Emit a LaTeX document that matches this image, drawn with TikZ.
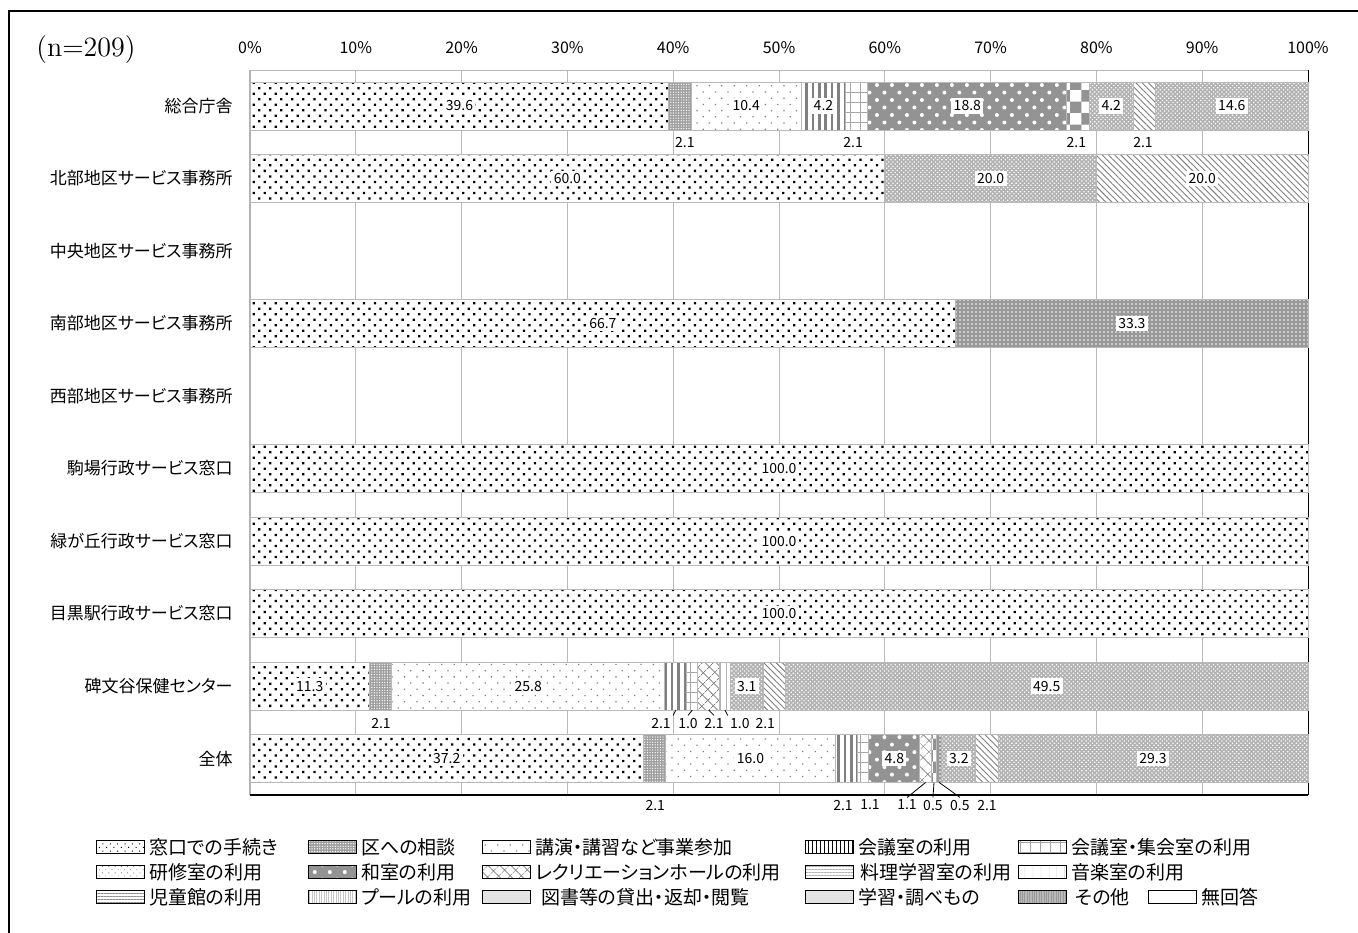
\documentclass[tikz,border=0pt]{standalone}
\usepackage{fontspec}
\usepackage{xcolor}
\usetikzlibrary{patterns,patterns.meta,positioning}
\newfontfamily\jp[RawFeature=+palt]{Noto Sans CJK JP}

\tikzset{
  seg/.style={draw=gray!55, line width=0.5pt, preaction={fill=white}},
  pdot/.style={pattern={Dots[radius=0.8pt,distance=3.9pt,angle=45]}, pattern color=black},
  pden/.style={preaction={fill=gray!75}, pattern={Dots[radius=0.35pt,distance=1.3pt]}, pattern color=white},
  plit/.style={pattern={Dots[radius=0.45pt,distance=4.4pt,angle=45]}, pattern color=gray},
  pvst/.style={pattern={Lines[angle=90,distance=3.2pt,line width=1.3pt]}, pattern color=gray},
  pgrd/.style={pattern={Hatch[angle=0,distance=5pt,line width=0.35pt]}, pattern color=gray!70},
  pwsq/.style={preaction={fill=gray!85}, pattern={Dots[radius=1pt,distance=5.3pt,angle=45]}, pattern color=white},
  pchk/.style={pattern=checkerboard, pattern color=gray!85},
  pfin/.style={preaction={fill=gray!60}, pattern={Dots[radius=0.45pt,distance=1.5pt,angle=45]}, pattern color=white},
  pdia/.style={pattern={Lines[angle=-45,distance=2.2pt,line width=0.45pt]}, pattern color=gray},
  pxx/.style={pattern={Hatch[angle=45,distance=4pt,line width=0.35pt]}, pattern color=gray},
  pgwd/.style={preaction={fill=gray!80}, pattern={Dots[radius=0.45pt,distance=2pt]}, pattern color=white},
  pvln/.style={pattern={Lines[angle=90,distance=3pt,line width=0.4pt]}, pattern color=gray!60},
  grid/.style={draw=gray!55, line width=0.5pt},
  vlab/.style={font=\jp\fontsize{7}{8}\selectfont, fill=white, inner sep=1.2pt},
  blab/.style={font=\jp\fontsize{7}{8}\selectfont, inner sep=1pt},
  lead/.style={draw=black, line width=0.4pt},
  rowlab/.style={anchor=east, inner sep=1pt, font=\jp\fontsize{8.5}{10}\selectfont},
  pct/.style={font=\jp\fontsize{8}{9}\selectfont},
  sw/.style={draw=black, line width=0.4pt, fill=white, minimum width=24pt, minimum height=6.5pt, inner sep=0pt, anchor=west},
  lgt/.style={font=\jp\fontsize{9.5}{11}\selectfont, inner sep=1pt},
}

\begin{document}
\begin{tikzpicture}[x=0.5pt,y=-0.5pt]
\useasboundingbox (0,0) rectangle (1358,932);
\draw[line width=1pt] (9,940) -- (9,11) -- (1366,11);
\node[font=\fontsize{14}{16}\selectfont] (nn) at (86,50) {(n=209)};

% row names
\foreach \t [count=\i] in {総合庁舎,北部地区サービス事務所,中央地区サービス事務所,南部地区サービス事務所,西部地区サービス事務所,駒場行政サービス窓口,緑が丘行政サービス窓口,目黒駅行政サービス窓口,碑文谷保健センター,全体}
  \node[rowlab] (r\i) at (235,{106+72.5*(\i-1)}) {\t};

\begin{scope}[shift={(250,0)},x=5.29pt]
  % grid and axis
  \foreach \p in {10,20,...,90}
    \draw[grid] (\p,70) -- (\p,795);
  \draw[grid] (0,70) -- (100,70);
  \draw[draw=gray!60, line width=1pt] (0,70) -- (0,795);
  \draw[line width=0.5pt] (100,70) -- (100,795);
  \draw[line width=0.6pt] (0,795) -- (100,795);
  \foreach \p in {0,10,...,100}
    \node[pct] (p\p) at (\p,48) {\p\%};

  % 総合庁舎
  \path[seg,pdot] (0,82) rectangle (39.6,130);
  \path[seg,pden] (39.6,82) rectangle (41.7,130);
  \path[seg,plit] (41.7,82) rectangle (52.1,130);
  \path[seg,pvst] (52.1,82) rectangle (56.3,130);
  \path[seg,pgrd] (56.3,82) rectangle (58.4,130);
  \path[seg,pwsq] (58.4,82) rectangle (77.2,130);
  \path[seg,pchk] (77.2,82) rectangle (79.3,130);
  \path[seg,pfin] (79.3,82) rectangle (83.5,130);
  \path[seg,pdia] (83.5,82) rectangle (85.6,130);
  \path[seg,pfin] (85.6,82) rectangle (100,130);
  \node[vlab] (v1a) at (19.8,106) {39.6};
  \node[vlab] (v1b) at (46.9,106) {10.4};
  \node[vlab] (v1c) at (54.2,106) {4.2};
  \node[vlab] (v1d) at (67.8,106) {18.8};
  \node[vlab] (v1e) at (81.4,106) {4.2};
  \node[vlab] (v1f) at (92.8,106) {14.6};
  \node[blab] (b1a) at (41.1,143) {2.1};
  \node[blab] (b1b) at (57.0,143) {2.1};
  \node[blab] (b1c) at (78.1,143) {2.1};
  \node[blab] (b1d) at (84.4,143) {2.1};

  % 北部地区サービス事務所
  \path[seg,pdot] (0,154.5) rectangle (60,202.5);
  \path[seg,pfin] (60,154.5) rectangle (80,202.5);
  \path[seg,pdia] (80,154.5) rectangle (100,202.5);
  \node[vlab] (v2a) at (30,178.5) {60.0};
  \node[vlab] (v2b) at (70,178.5) {20.0};
  \node[vlab] (v2c) at (90,178.5) {20.0};

  % 南部地区サービス事務所
  \path[seg,pdot] (0,299.5) rectangle (66.7,347.5);
  \path[seg,pgwd] (66.7,299.5) rectangle (100,347.5);
  \node[vlab] (v4a) at (33.35,323.5) {66.7};
  \node[vlab] (v4b) at (83.35,323.5) {33.3};

  % 行政サービス窓口
  \foreach \y/\k in {468.5/6,541/7,613.5/8} {
    \path[seg,pdot] (0,\y-24) rectangle (100,\y+24);
    \node[vlab] (v\k a) at (50,\y) {100.0};
  }

  % 碑文谷保健センター
  \path[seg,pdot] (0,662) rectangle (11.3,710);
  \path[seg,pden] (11.3,662) rectangle (13.4,710);
  \path[seg,plit] (13.4,662) rectangle (39.2,710);
  \path[seg,pvst] (39.2,662) rectangle (41.3,710);
  \path[seg,pgrd] (41.3,662) rectangle (42.3,710);
  \path[seg,pxx] (42.3,662) rectangle (44.4,710);
  \path[seg,pvln] (44.4,662) rectangle (45.4,710);
  \path[seg,pfin] (45.4,662) rectangle (48.5,710);
  \path[seg,pdia] (48.5,662) rectangle (50.6,710);
  \path[seg,pfin] (50.6,662) rectangle (100,710);
  \node[vlab] (v9a) at (5.65,686) {11.3};
  \node[vlab] (v9b) at (26.3,686) {25.8};
  \node[vlab] (v9c) at (46.95,686) {3.1};
  \node[vlab] (v9d) at (75.3,686) {49.5};
  \node[blab] (b9a) at (12.38,723) {2.1};
  \node[blab] (b9b) at (38.85,723) {2.1};
  \node[blab] (b9c) at (41.4,723) {1.0};
  \node[blab] (b9d) at (43.86,723) {2.1};
  \node[blab] (b9e) at (46.3,723) {1.0};
  \node[blab] (b9f) at (48.7,723) {2.1};
  \coordinate (q9b) at (40.25,710);
  \coordinate (q9c) at (41.8,710);
  \coordinate (q9d) at (43.35,710);
  \coordinate (q9e) at (44.9,710);
  \draw[lead] (q9b) -- (b9b.north east);
  \draw[lead] (q9c) -- (b9c.north);
  \draw[lead] (q9d) -- (b9d.north);
  \draw[lead] (q9e) -- (b9e.north west);

  % 全体
  \path[seg,pdot] (0,734.5) rectangle (37.2,782.5);
  \path[seg,pden] (37.2,734.5) rectangle (39.3,782.5);
  \path[seg,plit] (39.3,734.5) rectangle (55.3,782.5);
  \path[seg,pvst] (55.3,734.5) rectangle (57.4,782.5);
  \path[seg,pgrd] (57.4,734.5) rectangle (58.5,782.5);
  \path[seg,pwsq] (58.5,734.5) rectangle (63.3,782.5);
  \path[seg,pxx] (63.3,734.5) rectangle (64.4,782.5);
  \path[seg,pchk] (64.4,734.5) rectangle (64.9,782.5);
  \path[seg,pgwd] (64.9,734.5) rectangle (65.4,782.5);
  \path[seg,pfin] (65.4,734.5) rectangle (68.6,782.5);
  \path[seg,pdia] (68.6,734.5) rectangle (70.7,782.5);
  \path[seg,pfin] (70.7,734.5) rectangle (100,782.5);
  \node[vlab] (v10a) at (18.6,758.5) {37.2};
  \node[vlab] (v10b) at (47.3,758.5) {16.0};
  \node[vlab] (v10c) at (60.9,758.5) {4.8};
  \node[vlab] (v10d) at (67.0,758.5) {3.2};
  \node[vlab] (v10e) at (85.35,758.5) {29.3};
  \node[blab] (b10a) at (38.3,805) {2.1};
  \node[blab] (b10b) at (56.05,805) {2.1};
  \node[blab] (b10c) at (58.6,805) {1.1};
  \node[blab] (b10d) at (62.1,805) {1.1};
  \node[blab] (b10e) at (64.55,805) {0.5};
  \node[blab] (b10f) at (67.1,805) {0.5};
  \node[blab] (b10g) at (69.66,805) {2.1};
  \coordinate (q10d) at (63.85,782.5);
  \coordinate (q10e) at (64.65,782.5);
  \coordinate (q10f) at (65.15,782.5);
  \draw[lead] (q10d) -- (b10d.north);
  \draw[lead] (q10e) -- (b10e.north);
  \draw[lead] (q10f) -- (b10f.north);
\end{scope}

% legend
\node[sw,pattern={Dots[radius=0.35pt,distance=2.6pt,angle=45]},pattern color=black] (k1) at (96,847) {};
\node[lgt,right=1pt of k1] (t1) {窓口での手続き};
\node[sw,pden] (k2) at (308,847) {};
\node[lgt,right=1pt of k2] (t2) {区への相談};
\node[sw,plit] (k3) at (482,847) {};
\node[lgt,right=1pt of k3] (t3) {講演・講習など事業参加};
\node[sw,pattern={Lines[angle=90,distance=2pt,line width=0.5pt]},pattern color=black] (k4) at (805,847) {};
\node[lgt,right=1pt of k4] (t4) {会議室の利用};
\node[sw,pgrd] (k5) at (1018,847) {};
\node[lgt,right=1pt of k5] (t5) {会議室・集会室の利用};

\node[sw,pattern={Dots[radius=0.3pt,distance=2.2pt,angle=45]},pattern color=gray] (k6) at (96,872) {};
\node[lgt,right=1pt of k6] (t6) {研修室の利用};
\node[sw,pwsq] (k7) at (308,872) {};
\node[lgt,right=1pt of k7] (t7) {和室の利用};
\node[sw,pxx] (k8) at (482,872) {};
\node[lgt,right=1pt of k8] (t8) {レクリエーションホールの利用};
\node[sw,pattern={Lines[angle=0,distance=1.5pt,line width=0.3pt]},pattern color=gray!60] (k9) at (805,872) {};
\node[lgt,right=2pt of k9] (t9) {料理学習室の利用};
\node[sw,pattern={Lines[angle=90,distance=4pt,line width=0.3pt]},pattern color=gray!35] (k10) at (1018,872) {};
\node[lgt,right=1pt of k10] (t10) {音楽室の利用};

\node[sw,pattern={Lines[angle=0,distance=1.5pt,line width=0.4pt]},pattern color=gray!90] (k11) at (96,897) {};
\node[lgt,right=1pt of k11] (t11) {児童館の利用};
\node[sw,pattern={Lines[angle=90,distance=1.2pt,line width=0.4pt]},pattern color=gray!45] (k12) at (308,897) {};
\node[lgt,right=1pt of k12] (t12) {プールの利用};
\node[sw,fill=gray!22] (k13) at (482,897) {};
\node[lgt,right=4pt of k13] (t13) {図書等の貸出・返却・閲覧};
\node[sw,fill=gray!22] (k14) at (805,897) {};
\node[lgt,right=1pt of k14] (t14) {学習・調べもの};
\node[sw,preaction={fill=gray!55},pattern={Lines[angle=90,distance=1.2pt,line width=0.4pt]},pattern color=gray!80] (k15) at (1018,897) {};
\node[lgt,right=3pt of k15] (t15) {その他};
\node[sw] (k16) at (1148,897) {};
\node[lgt,right=1pt of k16] (t16) {無回答};
\end{tikzpicture}
\end{document}
